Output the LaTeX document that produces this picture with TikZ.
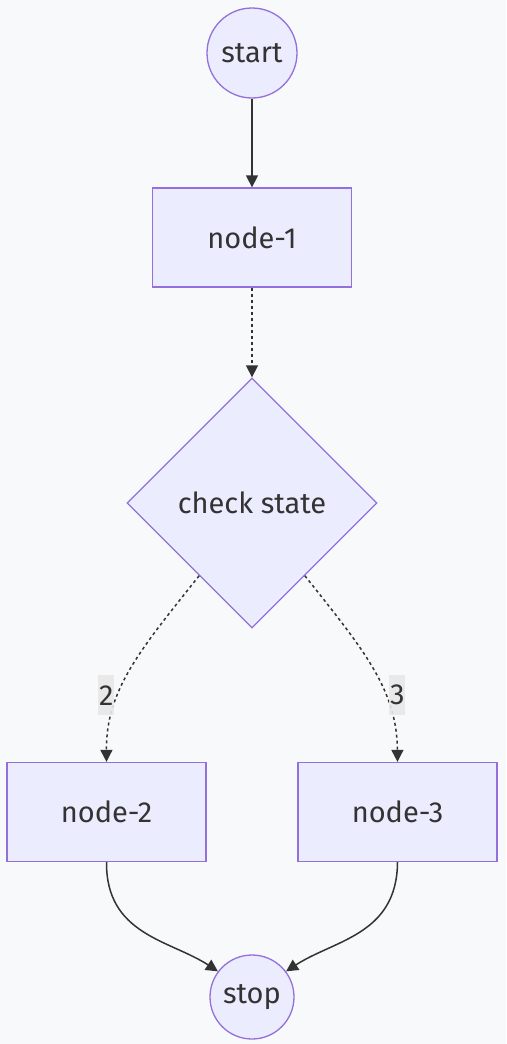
\documentclass[tikz,border=0pt]{standalone}
\usepackage{fontspec}
\setmainfont{Fira Sans}
\usetikzlibrary{shapes.geometric,arrows.meta}
\definecolor{bg}{HTML}{F8F9FA}
\definecolor{nfill}{HTML}{ECECFF}
\definecolor{nborder}{HTML}{9370DB}
\definecolor{ink}{HTML}{333333}
\definecolor{lblbg}{HTML}{E8E8E8}
\tikzset{
  base/.style={draw=nborder, fill=nfill, line width=1.3pt, text=ink, font=\fontsize{29}{34}\selectfont, inner sep=0pt},
  roundnode/.style={base, circle, minimum size=#1},
  boxnode/.style={base, rectangle, minimum width=199pt, minimum height=99pt},
  decision/.style={base, diamond, minimum width=250pt, minimum height=250pt},
  link/.style={draw=ink, line width=1.5pt, -{Triangle[length=12pt,width=12pt]}},
  dotlink/.style={link, dash pattern=on 3pt off 3pt},
  elabel/.style={fill=lblbg, fill opacity=0.9, text opacity=1, text=ink, font=\fontsize{29}{34}\selectfont, inner sep=0pt, minimum width=16pt, minimum height=40pt}
}
\begin{document}
\begin{tikzpicture}[x=1pt,y=-1pt]
\fill[bg] (0,0) rectangle (506,1044);
\useasboundingbox (0,0) rectangle (506,1044);
\node[roundnode=90pt] (start) at (252,53) {start};
\node[boxnode] (n1) at (252,237.5) {node-1};
\node[decision] (chk) at (252,503) {check state};
\node[boxnode] (n2) at (106.5,812) {node-2};
\node[boxnode] (n3) at (397.5,812) {node-3};
\node[roundnode=84pt] (stop) at (252,997) {stop};
\draw[link] (start) -- (n1);
\draw[dotlink] (n1) -- (chk);
\draw[dotlink] (chk.-126) .. controls (140,650) and (106,690) .. node[pos=0.65, elabel, anchor=center, xshift=-12pt] (l2) {2} (n2.north);
\draw[dotlink] (chk.-54) .. controls (364,650) and (397,690) .. node[pos=0.65, elabel, anchor=center, xshift=12pt] (l3) {3} (n3.north);
\draw[link] (n2.south) .. controls (106,935) and (170,940) .. (stop.143);
\draw[link] (n3.south) .. controls (397,935) and (334,940) .. (stop.37);
\end{tikzpicture}
\end{document}
